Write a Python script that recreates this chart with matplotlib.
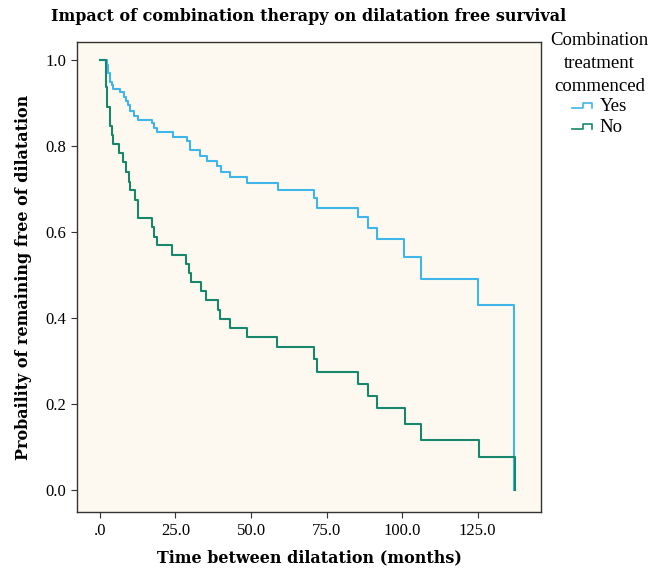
import matplotlib
matplotlib.use("Agg")
import matplotlib.pyplot as plt
from matplotlib.legend_handler import HandlerLine2D
from matplotlib.lines import Line2D

# Kaplan-Meier steps (time in months, survival after the drop)
yes_time = [0, 2.3, 2.6, 3.3, 3.9, 4.3, 6.6, 7.9, 8.6, 9.3, 9.9, 11.3, 12.6, 17.2, 17.9,
            18.9, 24.2, 28.8, 29.8, 33.1, 35.4, 38.7, 40.1, 43.0, 48.7, 58.9, 70.9, 71.9,
            85.4, 88.7, 91.7, 100.7, 106.3, 125.2, 137.1]
yes_surv = [1.0, 0.988, 0.970, 0.949, 0.942, 0.933, 0.926, 0.915, 0.905, 0.895, 0.881,
            0.870, 0.860, 0.853, 0.842, 0.833, 0.821, 0.812, 0.791, 0.777, 0.765, 0.753,
            0.740, 0.728, 0.714, 0.698, 0.679, 0.656, 0.635, 0.609, 0.584, 0.542, 0.491,
            0.430, 0.0]

no_time = [0, 2.0, 2.4, 3.3, 3.9, 4.4, 6.4, 7.7, 8.5, 9.6, 9.9, 11.6, 12.5, 17.1, 18.0,
           18.8, 23.7, 28.5, 29.4, 30.1, 33.3, 35.0, 39.2, 39.7, 43.0, 48.8, 58.7, 71.0,
           71.8, 85.5, 88.8, 91.7, 100.8, 106.2, 125.3, 137.2]
no_surv = [1.0, 0.937, 0.891, 0.847, 0.826, 0.806, 0.783, 0.763, 0.740, 0.717, 0.698,
           0.674, 0.632, 0.612, 0.589, 0.570, 0.547, 0.526, 0.506, 0.484, 0.463, 0.442,
           0.420, 0.398, 0.378, 0.357, 0.333, 0.305, 0.274, 0.246, 0.219, 0.191, 0.153,
           0.116, 0.077, 0.0]

x_ticks = [0, 25, 50, 75, 100, 125]
x_labels = [".0", "25.0", "50.0", "75.0", "100.0", "125.0"]
y_ticks = [0.0, 0.2, 0.4, 0.6, 0.8, 1.0]
y_labels = ["0.0", "0.2", "0.4", "0.6", "0.8", "1.0"]


class StepHandler(HandlerLine2D):
    # small step-shaped legend icon
    def create_artists(self, legend, orig_handle, xdescent, ydescent,
                       width, height, fontsize, trans):
        x0, x1 = -xdescent, -xdescent + width
        xm = x0 + 0.55 * width
        ylo = -ydescent + 0.2 * height
        yhi = -ydescent + 0.6 * height
        line = Line2D([x0, xm, xm, x1, x1], [ylo, ylo, yhi, yhi, ylo],
                      color=orig_handle.get_color(), lw=1.2)
        line.set_transform(trans)
        return [line]


plt.rcParams['font.family'] = ['Liberation Serif', 'DejaVu Serif']
bold_font = ['DejaVu Serif']

fig = plt.figure(figsize=(6.52, 5.69), dpi=100)
ax = fig.add_axes([0.118, 0.100, 0.712, 0.826])
ax.set_facecolor('#fdf9f0')

ax.step(yes_time, yes_surv, where='post', color='#3fb6ea', lw=1.5, label='Yes')
ax.step(no_time, no_surv, where='post', color='#17876b', lw=1.5, label='No')

ax.set_xlim(-7.6, 146)
ax.set_ylim(-0.051, 1.042)
ax.set_xticks(x_ticks)
ax.set_xticklabels(x_labels)
ax.set_yticks(y_ticks)
ax.set_yticklabels(y_labels)
ax.tick_params(labelsize=12, length=4, color='#333333')
for s in ax.spines.values():
    s.set_color('#333333')
    s.set_linewidth(1.0)

ax.set_title('Impact of combination therapy on dilatation free survival',
             fontsize=11.5, fontweight='bold', family=bold_font, pad=15)
ax.set_xlabel('Time between dilatation (months)', fontsize=11.5, fontweight='bold',
              family=bold_font, labelpad=8)
ax.set_ylabel('Probaility of remaining free of dilatation', fontsize=11.5,
              fontweight='bold', family=bold_font, labelpad=10)

leg = ax.legend(title='Combination\ntreatment\ncommenced', loc='upper left',
                bbox_to_anchor=(0.995, 1.045), frameon=False, fontsize=13.5,
                title_fontsize=13.5, handlelength=1.1, handletextpad=0.4,
                borderaxespad=0.2, labelspacing=0.22,
                handler_map={Line2D: StepHandler()})
leg._legend_box.align = 'center'
leg._legend_box.sep = 2
leg.get_title().set_multialignment('center')
leg.get_title().set_linespacing(1.45)

fig.savefig('out.png', dpi=100)
